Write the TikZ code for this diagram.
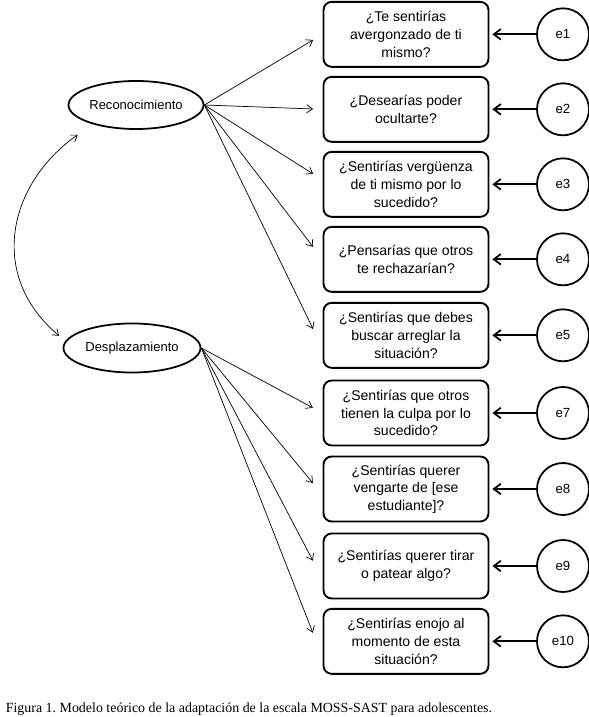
\documentclass[tikz,border=0pt]{standalone}
\usepackage{fontspec}
\setmainfont{Liberation Serif}
\setsansfont{Liberation Sans}
\usepackage{tikz}
\usetikzlibrary{calc,positioning,arrows.meta,shapes.geometric}

\begin{document}
\begin{tikzpicture}[
  every node/.style={font=\sffamily},
  item/.style={
    draw, rounded corners=7pt, line width=1.6pt,
    minimum width=4.95cm, minimum height=1.95cm,
    align=center, font=\sffamily\fontsize{12}{15}\selectfont,
    inner sep=2pt,
  },
  latent/.style={
    draw, ellipse, line width=1.5pt, inner sep=0pt,
    minimum width=4.05cm, minimum height=1.44cm,
    font=\sffamily\fontsize{11.1}{13}\selectfont,
  },
  err/.style={
    draw, circle, line width=1.5pt, inner sep=0pt,
    minimum size=1.56cm, font=\sffamily\fontsize{11.3}{13}\selectfont,
  },
  arr/.style={-{Straight Barb[length=5pt,width=7pt]}, line width=0.6pt},
  dbl/.style={{Straight Barb[length=5pt,width=7pt]}-{Straight Barb[length=5pt,width=7pt]}, line width=0.6pt},
  earr/.style={-{Straight Barb[length=6pt,width=9pt]}, line width=1.5pt, shorten >=2.5pt},
]

\useasboundingbox (0,0) rectangle (17.64,21.51);

% Latent factors
\node[latent] (rec) at (4.08, 18.36) {Reconocimiento};
\node[latent, minimum width=4.11cm, minimum height=1.47cm] (des) at (3.96, 11.07) {Desplazamiento};

% Observed items
\node[item] (q1) at (12.18, 20.48) {¿Te sentirías\\avergonzado de ti\\mismo?};
\node[item] (q2) at (12.18, 18.23) {¿Desearías poder\\ocultarte?};
\node[item] (q3) at (12.18, 15.98) {¿Sentirías vergüenza\\de ti mismo por lo\\sucedido?};
\node[item] (q4) at (12.18, 13.73) {¿Pensarías que otros\\te rechazarían?};
\node[item] (q5) at (12.18, 11.45) {¿Sentirías que debes\\buscar arreglar la\\situación?};
\node[item] (q7) at (12.18, 9.12) {¿Sentirías que otros\\tienen la culpa por lo\\sucedido?};
\node[item] (q8) at (12.18, 6.84) {¿Sentirías querer\\vengarte de [ese\\estudiante]?};
\node[item] (q9) at (12.18, 4.53) {¿Sentirías querer tirar\\o patear algo?};
\node[item] (q10) at (12.18, 2.27) {¿Sentirías enojo al\\momento de esta\\situación?};

% Error terms
\foreach \i in {1,2,3,4,5,7,8,9,10} {
  \node[err, right=1.4cm of q\i] (e\i) {e\i};
  \draw[earr] (e\i) -- (q\i);
}

% Loadings
\foreach \bx/\ang in {q1/180, q2/180, q3/177, q4/180, q5/189}
  \draw[arr] (rec.east) -- ($(rec.east)!.92!(\bx.\ang)$);
\foreach \bx/\ang in {q7/180, q8/184, q9/189, q10/191}
  \draw[arr] (des.east) -- ($(des.east)!.92!(\bx.\ang)$);

% Covariance
\draw[dbl, shorten <=0.55cm, shorten >=0.24cm] (rec.204) to[out=215, in=140, looseness=1.2] (des.174);

% Caption
\node[font=\rmfamily\fontsize{11.9}{13}\selectfont, anchor=base west] (cap) at (0.05, 0.13)
  {\underline{Figura 1.} Modelo teórico de la adaptación de la escala MOSS-SAST para adolescentes.};

\end{tikzpicture}
\end{document}
